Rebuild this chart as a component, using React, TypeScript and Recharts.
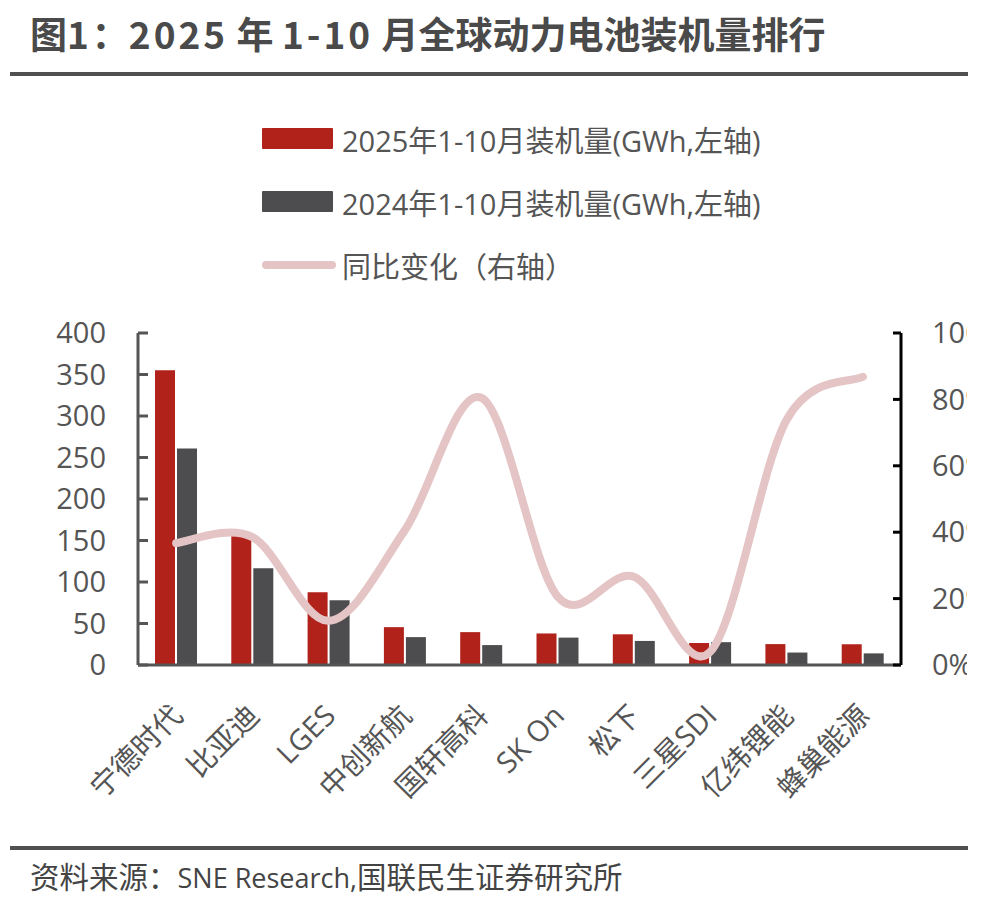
import { ComposedChart, Bar, Line, XAxis, YAxis, Legend } from 'recharts';

const companies = ['宁德时代', '比亚迪', 'LGES', '中创新航', '国轩高科', 'SK On', '松下', '三星SDI', '亿纬锂能', '蜂巢能源'];
const install2025 = [355.2, 158.6, 87.7, 45.6, 39.6, 38.0, 37.0, 26.5, 25.2, 25.0];
const install2024 = [260.7, 116.5, 78.0, 33.6, 24.0, 33.0, 29.0, 27.5, 15.0, 14.0];
const yoyChange = [36.7, 38.5, 13.3, 40.7, 80.5, 20.6, 26.6, 4.0, 73.8, 86.8];

const leftTicks = [0, 50, 100, 150, 200, 250, 300, 350, 400];
const rightTicks = [0, 20, 40, 60, 80, 100];

const data = companies.map((name, i) => ({
    name,
    v2025: install2025[i],
    v2024: install2024[i],
    yoy: yoyChange[i],
}));

const FONT = "'Open Sans', 'Noto Sans CJK SC', sans-serif";
const TEXT = '#555555';
const RED = '#B0221A';
const GRAY = '#4D4D4F';
const PINK = '#E4C4C5';

// Excel-like smoothed line (Catmull-Rom through the points)
const smoothCurve = (context: any) => {
    let pts: number[][] = [];
    return {
        areaStart() {},
        areaEnd() {},
        lineStart() {
            pts = [];
        },
        point(x: number, y: number) {
            pts.push([+x, +y]);
        },
        lineEnd() {
            const n = pts.length;
            if (!n) return;
            context.moveTo(pts[0][0], pts[0][1]);
            for (let i = 0; i < n - 1; i++) {
                const p0 = pts[i > 0 ? i - 1 : i];
                const p1 = pts[i];
                const p2 = pts[i + 1];
                const p3 = pts[i + 2 < n ? i + 2 : i + 1];
                context.bezierCurveTo(
                    p1[0] + (p2[0] - p0[0]) / 6,
                    p1[1] + (p2[1] - p0[1]) / 6,
                    p2[0] - (p3[0] - p1[0]) / 6,
                    p2[1] - (p3[1] - p1[1]) / 6,
                    p2[0],
                    p2[1]
                );
            }
        },
    };
};

const XTick = ({ x, y, payload }: any) => (
    <g transform={`translate(${x - 9},${y})`}>
        <text
            x={0}
            y={0}
            dy="0.85em"
            textAnchor="end"
            transform="rotate(-45)"
            fontSize={29}
            fill={TEXT}
            fontFamily={FONT}
        >
            {payload.value}
        </text>
    </g>
);

const legendOrder = ['v2025', 'v2024', 'yoy'];

const renderLegend = ({ payload }: any) => {
    const items = [...(payload || [])].sort(
        (a: any, b: any) => legendOrder.indexOf(a.dataKey) - legendOrder.indexOf(b.dataKey)
    );
    return (
        <div style={{ fontFamily: FONT, fontSize: 29, color: TEXT }}>
            {items.map((item: any) => (
                <div key={item.dataKey} style={{ display: 'flex', alignItems: 'center', height: 63 }}>
                    <svg width={78} height={24} style={{ marginRight: 2 }}>
                        {item.dataKey === 'yoy' ? (
                            <line x1={4} y1={12} x2={70} y2={12} stroke={PINK} strokeWidth={8} strokeLinecap="round" />
                        ) : (
                            <rect x={0} y={1} width={71} height={21} rx={1} fill={item.color} />
                        )}
                    </svg>
                    <span style={{ whiteSpace: 'nowrap' }}>{item.value}</span>
                </div>
            ))}
        </div>
    );
};

const latin = (s: string, spacing: number) => <span style={{ letterSpacing: spacing }}>{s}</span>;

export default function App() {
    return (
        <div
            style={{
                position: 'absolute',
                left: 0,
                top: 0,
                width: 986,
                height: 900,
                overflow: 'hidden',
                background: '#fff',
                fontFamily: FONT,
            }}
        >
            <div style={{ position: 'absolute', left: 0, top: 0 }}>
                <ComposedChart
                    width={967}
                    height={900}
                    data={data}
                    margin={{ top: 333, right: 0, bottom: 85, left: 58 }}
                    barSize={20}
                    barGap={2}
                >
                    <XAxis
                        dataKey="name"
                        interval={0}
                        height={150}
                        tickLine={false}
                        tickSize={0}
                        tickMargin={35}
                        axisLine={{ stroke: '#555555', strokeWidth: 3 }}
                        tick={<XTick />}
                    />
                    <YAxis
                        yAxisId="left"
                        orientation="left"
                        width={80}
                        domain={[0, 400]}
                        ticks={leftTicks}
                        interval={0}
                        tickSize={-10}
                        tickMargin={42}
                        axisLine={{ stroke: '#555555', strokeWidth: 3 }}
                        tickLine={{ stroke: '#555555', strokeWidth: 3 }}
                        tick={{ fontSize: 29, fill: TEXT, fontFamily: FONT }}
                    />
                    <YAxis
                        yAxisId="right"
                        orientation="right"
                        width={66}
                        domain={[0, 100]}
                        ticks={rightTicks}
                        interval={0}
                        tickSize={-8}
                        tickMargin={39}
                        tickFormatter={(v: number) => `${v}%`}
                        axisLine={{ stroke: '#000000', strokeWidth: 3 }}
                        tickLine={{ stroke: '#000000', strokeWidth: 3 }}
                        tick={{ fontSize: 29, fill: TEXT, fontFamily: FONT, textAnchor: 'start' }}
                    />
                    <Legend
                        layout="vertical"
                        align="center"
                        verticalAlign="middle"
                        content={renderLegend}
                        wrapperStyle={{ position: 'absolute', left: 262, top: 107, width: 560, height: 190 }}
                    />
                    <Bar
                        yAxisId="left"
                        dataKey="v2025"
                        name="2025年1-10月装机量(GWh,左轴)"
                        fill={RED}
                        isAnimationActive={false}
                    />
                    <Bar
                        yAxisId="left"
                        dataKey="v2024"
                        name="2024年1-10月装机量(GWh,左轴)"
                        fill={GRAY}
                        isAnimationActive={false}
                    />
                    <Line
                        yAxisId="right"
                        dataKey="yoy"
                        name="同比变化（右轴）"
                        type={smoothCurve as any}
                        stroke={PINK}
                        strokeWidth={8}
                        strokeLinecap="round"
                        dot={false}
                        activeDot={false}
                        isAnimationActive={false}
                    />
                </ComposedChart>
            </div>
            <div
                style={{
                    position: 'absolute',
                    left: 30,
                    top: 11,
                    fontFamily: "'Noto Sans CJK SC', sans-serif",
                    fontWeight: 700,
                    fontSize: 37,
                    lineHeight: '44px',
                    color: '#4A4A4A',
                    whiteSpace: 'nowrap',
                }}
            >
                图{latin('1', 3)}：{latin('2025', 3)} 年 {latin('1-10', 3)} 月全球动力电池装机量排行
            </div>
            <div style={{ position: 'absolute', left: 10, top: 72, width: 958, height: 4, background: '#505050' }} />
            <div style={{ position: 'absolute', left: 10, top: 846, width: 958, height: 4, background: '#505050' }} />
            <div
                style={{
                    position: 'absolute',
                    left: 30,
                    top: 859,
                    fontSize: 29.5,
                    lineHeight: '36px',
                    color: '#444444',
                    whiteSpace: 'nowrap',
                }}
            >
                资料来源：<span style={{ fontSize: 27 }}>SNE Research,</span>国联民生证券研究所
            </div>
        </div>
    );
}
